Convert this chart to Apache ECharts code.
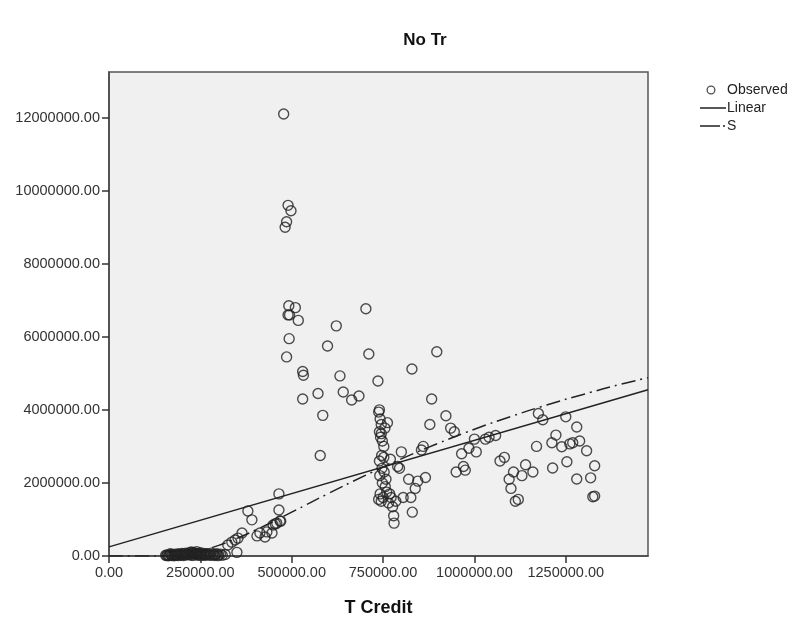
<!DOCTYPE html>
<html>
<head>
<meta charset="utf-8">
<script src="https://cdn.jsdelivr.net/npm/echarts@6/dist/echarts.min.js"></script>
<style>
html,body{margin:0;padding:0;background:#fff;}
#chart{width:795px;height:617px;}
</style>
</head>
<body>
<div id="chart"></div>
<script>
var chartTitle = "No Tr";
var xAxisName = "T Credit";
var legendNames = ["Observed", "Linear", "S"];

var obsX = [
  155000,160000,165000,170000,175000,180000,185000,190000,195000,200000,
  205000,210000,215000,220000,225000,230000,235000,240000,245000,250000,
  255000,260000,265000,270000,275000,280000,285000,290000,295000,300000,
  305000,310000,318000,222000,232000,240000,168000,190000,212000,262000,
  158000,172000,183000,197000,208000,218000,228000,238000,248000,258000,
  268000,278000,288000,298000,163000,178000,203000,226000,244000,252000,
  325000,336000,345000,353000,364000,350000,380000,391000,405000,413000,
  427000,432000,446000,449000,459000,468000,465000,465000,470000,455000,
  478000,482000,486000,490000,498000,492000,490000,494000,510000,518000,
  493000,486000,530000,532000,530000,572000,585000,578000,598000,622000,
  632000,641000,664000,684000,703000,711000,736000,738000,829000,897000,
  883000,922000,
  740000,742000,745000,740000,743000,748000,752000,746000,752000,740000,
  747000,753000,741000,748000,756000,742000,750000,760000,738000,745000,
  765000,772000,776000,779000,780000,768000,785000,790000,795000,762000,
  770000,758000,800000,805000,745000,755000,
  820000,826000,830000,838000,845000,855000,860000,866000,878000,935000,
  945000,950000,965000,970000,975000,985000,1000000,1005000,1030000,1040000,
  1058000,1070000,1082000,1095000,1100000,1107000,1112000,1120000,1130000,1140000,
  1160000,1170000,1175000,1187000,
  1212000,1214000,1223000,1239000,1250000,1253000,1261000,1269000,1280000,1280000,
  1288000,1307000,1318000,1324000,1329000,1329000
];
var obsY = [
  20000,30000,25000,40000,30000,50000,35000,60000,40000,70000,
  50000,80000,60000,90000,110000,100000,70000,120000,60000,90000,
  50000,70000,40000,60000,30000,80000,50000,40000,60000,30000,
  50000,20000,40000,30000,20000,40000,60000,10000,30000,20000,
  10000,15000,20000,25000,30000,45000,65000,80000,55000,35000,
  25000,20000,15000,10000,5000,8000,12000,18000,22000,14000,
  300000,380000,440000,490000,630000,100000,1230000,990000,550000,630000,
  520000,660000,630000,850000,900000,960000,1260000,1700000,950000,880000,
  12100000,9000000,9150000,9600000,9450000,6850000,6600000,6600000,6800000,6450000,
  5950000,5450000,5050000,4950000,4300000,4450000,3850000,2750000,5750000,6300000,
  4930000,4490000,4270000,4380000,6770000,5530000,4790000,3940000,5120000,5590000,
  4300000,3840000,
  4000000,3750000,3600000,3400000,3250000,3150000,3000000,2750000,2700000,2600000,
  2400000,2300000,2200000,2000000,1900000,1700000,1600000,1750000,1550000,1500000,
  1450000,1600000,1350000,1100000,900000,1700000,1500000,2450000,2400000,3650000,
  2650000,2100000,2850000,1600000,3350000,3500000,
  2100000,1600000,1200000,1850000,2050000,2900000,3000000,2150000,3600000,3500000,
  3400000,2300000,2800000,2450000,2350000,2950000,3200000,2850000,3200000,3250000,
  3300000,2600000,2700000,2100000,1850000,2300000,1500000,1550000,2200000,2500000,
  2300000,3000000,3900000,3730000,
  3100000,2410000,3310000,2990000,3810000,2580000,3070000,3100000,3530000,2110000,
  3150000,2880000,2140000,1620000,1640000,2470000
];

var linearX = [0, 1475000];
var linearY = [250000, 4550000];

var sX = [0, 100000, 150000, 200000, 250000, 300000, 350000, 400000, 450000, 500000,
          600000, 700000, 800000, 900000, 1000000, 1100000, 1200000, 1300000, 1400000, 1475000];
var sY = [0, 0, 8500, 50000, 144000, 291000, 483000, 705000, 947000, 1199000,
          1709000, 2199000, 2659000, 3081000, 3470000, 3820000, 4140000, 4430000, 4700000, 4880000];

var xTickInterval = 250000;
var yTickInterval = 2000000;
var xMax = 1475000;
var yMax = 13250000;

function pairs(a, b) { return a.map(function (v, i) { return [v, b[i]]; }); }

var boxTop = 'M0,0 L26,0 L26,0 Z ';
var boxBottom = ' M0,12 L26,12 L26,12 Z';
var ringIcon = 'path://' + boxTop +
  'M6.5,6 A4.5,4.5 0 1,0 15.5,6 A4.5,4.5 0 1,0 6.5,6 Z M7.8,6 A3.2,3.2 0 1,1 14.2,6 A3.2,3.2 0 1,1 7.8,6 Z' + boxBottom;
var lineIcon = 'path://' + boxTop + 'M0,5.3 L26,5.3 L26,6.7 L0,6.7 Z' + boxBottom;
var dashDotIcon = 'path://' + boxTop + 'M0,5.3 L20,5.3 L20,6.7 L0,6.7 Z M23,5.3 L25,5.3 L25,6.7 L23,6.7 Z' + boxBottom;

var chart = echarts.init(document.getElementById('chart'), null, {renderer: 'canvas'});
var font = 'Liberation Sans, Arial, sans-serif';
chart.setOption({
  animation: false,
  backgroundColor: '#ffffff',
  title: {
    text: chartTitle,
    left: 420, top: 27,
    textAlign: 'center',
    textStyle: {fontFamily: font, fontSize: 17, fontWeight: 'bold', color: '#111'}
  },
  legend: {
    orient: 'vertical',
    left: 695, top: 78,
    itemWidth: 26, itemHeight: 12, itemGap: 4,
    textStyle: {fontFamily: font, fontSize: 14, color: '#222', padding: [0,0,0,-4]},
    data: [
      {name: legendNames[0], icon: ringIcon, itemStyle: {color: '#222', borderWidth: 0}},
      {name: legendNames[1], icon: lineIcon, itemStyle: {color: '#222', borderWidth: 0}},
      {name: legendNames[2], icon: dashDotIcon, itemStyle: {color: '#222', borderWidth: 0}}
    ]
  },
  grid: {
    left: 109, right: 147, top: 72, bottom: 61,
    outerBoundsMode: 'none',
    show: true, backgroundColor: '#f0f0f0', borderColor: '#555', borderWidth: 1.5
  },
  xAxis: {
    type: 'value', min: 0, max: xMax, interval: xTickInterval,
    name: xAxisName, nameLocation: 'middle', nameGap: 43,
    nameTextStyle: {fontFamily: font, fontSize: 18, fontWeight: 'bold', color: '#111'},
    axisLine: {show: true, onZero: false, lineStyle: {color: '#444', width: 1.5}},
    axisTick: {show: true, length: 7, lineStyle: {color: '#333', width: 1.5}},
    axisLabel: {fontFamily: font, fontSize: 14.5, color: '#333', margin: 9, showMaxLabel: false,
      formatter: function (v) { return v.toFixed(2); }},
    splitLine: {show: false}
  },
  yAxis: {
    type: 'value', min: 0, max: yMax, interval: yTickInterval,
    axisLine: {show: true, onZero: false, lineStyle: {color: '#444', width: 1.5}},
    axisTick: {show: true, length: 7, lineStyle: {color: '#333', width: 1.5}},
    axisLabel: {fontFamily: font, fontSize: 14.5, color: '#333', margin: 9, showMaxLabel: false,
      formatter: function (v) { return v.toFixed(2); }},
    splitLine: {show: false}
  },
  series: [
    {
      name: legendNames[0], type: 'scatter', symbol: 'circle', symbolSize: 10,
      itemStyle: {color: 'rgba(0,0,0,0)', borderColor: '#222', borderWidth: 1.4},
      data: pairs(obsX, obsY), z: 3
    },
    {
      name: legendNames[1], type: 'line', symbol: 'none', showSymbol: false,
      lineStyle: {color: '#222', width: 1.5},
      itemStyle: {color: '#222'},
      data: pairs(linearX, linearY), z: 4
    },
    {
      name: legendNames[2], type: 'line', symbol: 'none', showSymbol: false, smooth: true,
      lineStyle: {color: '#222', width: 1.5, type: [14, 5, 2, 5]},
      itemStyle: {color: '#222'},
      data: pairs(sX, sY), z: 4
    }
  ]
});
</script>
</body>
</html>
